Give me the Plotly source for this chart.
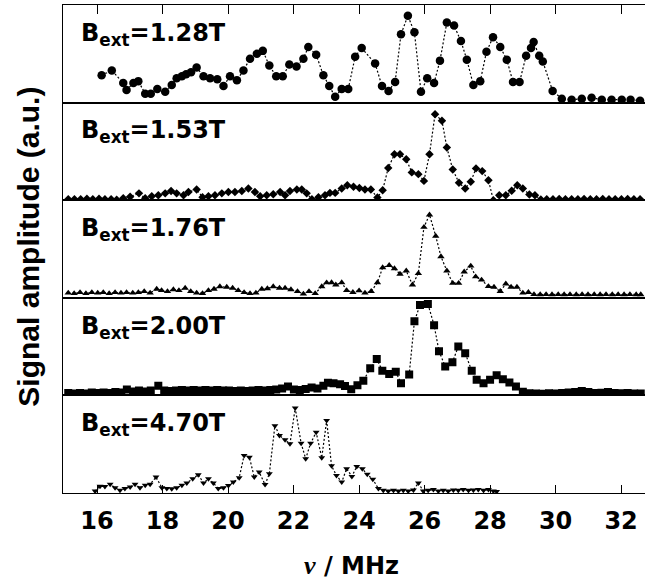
import plotly.graph_objects as go

# NMR spectra at five external fields: frequency (MHz) and signal amplitude (a.u.)
freq_128 = [16.14, 16.45, 16.80, 16.90, 17.11, 17.26, 17.47, 17.64, 17.84, 18.08,
            18.28, 18.43, 18.59, 18.72, 18.87, 19.04, 19.25, 19.45, 19.67, 19.86,
            20.06, 20.27, 20.47, 20.67, 20.88, 21.06, 21.26, 21.47, 21.67, 21.87,
            22.09, 22.30, 22.45, 22.69, 22.91, 23.09, 23.27, 23.47, 23.67, 23.88,
            24.08, 24.49, 24.70, 24.90, 25.10, 25.28, 25.49, 25.69, 25.89, 26.08,
            26.29, 26.47, 26.68, 26.90, 27.11, 27.29, 27.49, 27.70, 27.89, 28.09,
            28.31, 28.51, 28.70, 28.90, 29.10, 29.25, 29.33, 29.50, 29.61, 29.91,
            30.19, 30.49, 30.80, 31.10, 31.41, 31.71, 32.02, 32.29, 32.58]
amp_128 = [28, 33, 20, 13, 20, 22, 9, 9, 14, 11,
           18, 25, 27, 29, 31, 36, 27, 25, 24, 17,
           27, 23, 33, 45, 50, 53, 38, 27, 27, 39,
           37, 45, 57, 49, 28, 17, 6, 14, 14, 47,
           56, 40, 17, 12, 21, 70, 89, 72, 11, 25,
           20, 43, 82, 79, 63, 44, 18, 22, 52, 67,
           57, 44, 21, 21, 48, 56, 62, 48, 42, 12,
           4, 3, 4, 5, 3, 3, 3, 3, 2]

freq_153 = [15.12, 15.31, 15.50, 15.69, 15.87, 16.06, 16.24, 16.43, 16.60, 16.80,
            17.01, 17.28, 17.47, 17.67, 17.87, 18.08, 18.26, 18.43, 18.64, 18.79,
            19.04, 19.22, 19.40, 19.60, 19.81, 20.01, 20.21, 20.42, 20.62, 20.82,
            20.98, 21.18, 21.38, 21.59, 21.74, 21.89, 22.10, 22.25, 22.40, 22.56,
            22.76, 22.96, 23.11,
            23.27, 23.47, 23.64, 23.83, 24.01, 24.18, 24.36, 24.56, 24.72, 24.89,
            25.08, 25.25, 25.44, 25.61, 25.81, 25.98, 26.15, 26.32, 26.53, 26.68,
            26.86, 27.05, 27.24, 27.41, 27.57, 27.76, 27.95, 28.10, 28.28, 28.48,
            28.66, 28.83, 29.00, 29.20, 29.37, 29.55, 29.73, 29.92, 30.11, 30.30,
            30.49, 30.68, 30.87, 31.06, 31.25, 31.44, 31.63, 31.82, 32.01, 32.20,
            32.39, 32.58]
amp_153 = [1, 1, 1, 1.5, 1, 1.5, 1, 1, 0.5, 2,
           3.5, 7, 2, 4, 5, 7, 9.5, 7, 5, 8.5,
           11, 3, 4, 5, 7, 8.5, 8.5, 9.5, 12, 8.5,
           4, 5, 6, 8.5, 5, 9.5, 11, 11, 7, 1,
           3, 5, 7.5,
           7.5, 12, 15.4, 13.7, 12.6, 11, 11, 2.8, 10.3, 33,
           47, 47, 42, 28.5, 26.7, 19.8, 47, 88, 81.5, 54,
           31.5, 17.8, 12, 18.8, 32.6, 29.8, 20.5, 0, 5, 5,
           9.6, 15.4, 12, 5.8, 5, 0.7, 1, 1, 1.2, 1,
           1, 1, 1.3, 1, 1, 1.2, 1, 1, 1, 1.2,
           1, 1]

freq_176 = [15.12, 15.30, 15.48, 15.66, 15.84, 16.02, 16.19, 16.37, 16.55, 16.73,
            16.90, 17.09, 17.26, 17.44, 17.62, 17.82, 17.97, 18.15, 18.33, 18.50,
            18.69, 18.86, 19.04, 19.22, 19.40, 19.57, 19.75, 19.96, 20.14, 20.31,
            20.49, 20.67, 20.85, 21.03, 21.20, 21.38, 21.57, 21.74, 21.92, 22.12,
            22.30, 22.47, 22.66, 22.86, 23.01,
            23.16, 23.29, 23.47, 23.62, 23.81, 24.00, 24.18, 24.37, 24.56, 24.72,
            24.92, 25.08, 25.25, 25.44, 25.63, 25.81, 25.98, 26.15, 26.34, 26.50,
            26.68, 26.86, 27.04, 27.21, 27.41, 27.56, 27.74, 27.95, 28.12, 28.31,
            28.48, 28.64, 28.82, 29.00, 29.17, 29.34, 29.53, 29.71, 29.89, 30.08,
            30.26, 30.44, 30.63, 30.81, 30.99, 31.18, 31.36, 31.54, 31.73, 31.91,
            32.09, 32.27, 32.46, 32.60]
amp_176 = [5, 4.5, 5.5, 4.5, 5.5, 5, 5.5, 4.5, 5.5, 5,
           5.5, 5, 5.5, 6.5, 5, 9, 7.5, 6.5, 8.5, 7.5,
           10, 6.5, 5, 4.5, 7.5, 9, 11.5, 11, 10, 7.5,
           5.5, 4.5, 5, 9, 9.5, 11.5, 10, 10, 8.5, 6.5,
           4, 6.5, 4.5, 11.5, 15.5,
           15.6, 13.3, 15.6, 7.6, 5.6, 7.3, 5, 6.6, 15.6, 31,
           33.3, 30, 24.3, 27.6, 13.3, 25, 72.3, 85, 63.3, 42.3,
           27.6, 15, 15, 26.6, 32.6, 21.6, 18.3, 11.6, 11, 6.6,
           14.3, 11, 11, 5, 5.6, 3.5, 3.3, 3.5, 3.3, 3.5,
           3.3, 3.5, 3.3, 3.5, 3.3, 3.5, 3.3, 3.5, 3.3, 3.5,
           3.3, 3.5, 3.3, 3.3]

freq_200 = [15.12, 15.30, 15.48, 15.66, 15.84, 16.02, 16.20, 16.38, 16.56, 16.74,
            16.91, 17.10, 17.28, 17.46, 17.64, 17.87, 18.05, 18.23, 18.41, 18.59,
            18.77, 18.95, 19.13, 19.31, 19.49, 19.67, 19.85, 20.03, 20.21, 20.39,
            20.57, 20.75, 20.93, 21.11, 21.29, 21.47, 21.65, 21.83, 22.01, 22.19,
            22.37, 22.55, 22.73, 22.91, 23.05,
            23.22, 23.42, 23.57, 23.76, 23.95, 24.13, 24.34, 24.54, 24.71, 24.92,
            25.12, 25.28, 25.53, 25.69, 25.86, 26.10, 26.29, 26.44, 26.63, 26.85,
            27.03, 27.24, 27.44, 27.59, 27.80, 28.00, 28.20, 28.39, 28.59, 28.79,
            29.00, 29.20, 29.40, 29.60, 29.80, 30.00, 30.20, 30.40, 30.60, 30.80,
            31.00, 31.20, 31.40, 31.60, 31.80, 32.00, 32.20, 32.40, 32.60]
amp_200 = [2.5, 2, 2.5, 2, 3, 2.5, 3, 2.5, 3.5, 3,
           6, 4, 5, 4, 5, 10, 5, 4.5, 5, 5.5,
           5, 5.5, 5, 5.5, 5, 5.5, 5, 5, 4.5, 5,
           4.5, 5, 5.5, 5, 5.5, 6, 7, 9, 6, 5.5,
           6.5, 8, 7, 10, 13,
           12.4, 11.4, 9.7, 6.2, 10.4, 14.9, 27.7, 37.3, 25.3, 21.8,
           24.2, 12.4, 21.5, 76, 92.6, 93.7, 72, 45.3, 29.7, 33.9,
           50.2, 43.2, 25.3, 16, 12.4, 16, 20.7, 16.6, 13.2, 9,
           3.8, 2.1, 2, 1.8, 2.2, 2, 2.5, 3, 3.5, 4.6,
           3.5, 2.5, 2.8, 3.5, 2.5, 2.2, 2.5, 2, 2]

freq_470 = [15.94, 16.09, 16.24, 16.40, 16.55, 16.70, 16.85, 17.01, 17.16, 17.31,
            17.47, 17.62, 17.80, 17.98, 18.13, 18.28, 18.43, 18.59, 18.74, 18.92,
            19.09, 19.25, 19.40, 19.55, 19.70, 19.86, 20.01, 20.16, 20.34, 20.49,
            20.65, 20.80, 20.95, 21.13, 21.26, 21.43, 21.57, 21.74, 21.89, 22.05,
            22.23, 22.37, 22.52, 22.69, 22.86, 23.01, 23.16, 23.31, 23.47, 23.62,
            23.78, 23.93, 24.10, 24.25, 24.42, 24.59, 24.74, 24.89, 25.05, 25.20,
            25.35, 25.50, 25.66, 25.81, 25.96, 26.11, 26.27, 26.42, 26.57, 26.72,
            26.88, 27.03, 27.18, 27.34, 27.49, 27.64, 27.80, 27.95, 28.10, 28.20]
amp_470 = [2, 6.8, 6.7, 8.9, 5.5, 2.8, 4.5, 6.1, 8.9, 5.4,
           7.9, 8.9, 16.3, 5.4, 4.5, 4.4, 5.4, 7.9, 10.2, 14.7,
           18.8, 10.2, 14.7, 10.2, 4.5, 5.4, 7.7, 11.2, 15.7, 38.5,
           36.7, 16.3, 21.4, 8.6, 19.8, 69, 58.9, 54.5, 50.4, 87.1,
           51, 35.1, 51, 62.2, 36.1, 74.2, 27.8, 18, 11.2, 24.9,
           17, 27.2, 24.9, 19.1, 14, 4.5, 2.7, 2, 2.7, 2,
           2.7, 2, 3, 10.2, 2, 2.7, 3.5, 2, 2.7, 2,
           3, 2.7, 3.5, 2.7, 3, 3.5, 2.7, 3.5, 2, 1.5]

field_labels = ["1.28", "1.53", "1.76", "2.00", "4.70"]
freq_ticks = [16, 18, 20, 22, 24, 26, 28, 30, 32]

WIDE = "DejaVu Sans, Verdana, sans-serif"
NARROW = "Liberation Sans, Arial, sans-serif"
X_RANGE = [14.96, 32.73]
N = 5

spectra = [
    (freq_128, amp_128, "circle", 8.5),
    (freq_153, amp_153, "diamond", 6.5),
    (freq_176, amp_176, "triangle-up", 6.5),
    (freq_200, amp_200, "square", 8),
    (freq_470, amp_470, "triangle-down", 6),
]

fig = go.Figure()
layout = {}
for i, (fx, fy, sym, size) in enumerate(spectra):
    k = "" if i == 0 else str(i + 1)
    fig.add_trace(go.Scatter(
        x=fx, y=fy, mode="lines+markers",
        xaxis="x" + k, yaxis="y" + k,
        line=dict(color="black", width=1.2, dash="2px,2px"),
        marker=dict(symbol=sym, size=size, color="black", line=dict(width=0)),
        showlegend=False,
    ))
    top = 1 - i / N
    bottom = 1 - (i + 1) / N
    xa = dict(
        range=X_RANGE, anchor="y" + k, showgrid=False, zeroline=False,
        showline=True, linecolor="black", linewidth=1.2, mirror=True,
        tickvals=freq_ticks, showticklabels=False, ticks="",
    )
    if i == 0:
        xa.update(side="top", ticks="inside", ticklen=9, tickwidth=1.2,
                  tickcolor="black")
    if i == N - 1:
        xa.update(ticks="inside", ticklen=8, tickwidth=1.2, tickcolor="black",
                  showticklabels=True, ticklabelstandoff=6,
                  tickfont=dict(family=WIDE, size=24, color="black", weight="bold"))
    layout["xaxis" + k] = xa
    layout["yaxis" + k] = dict(
        domain=[bottom, top], range=[0, 100], anchor="x" + k,
        showgrid=False, zeroline=False, showline=True, linecolor="black",
        linewidth=1.2, showticklabels=False, ticks="",
    )
    fig.add_annotation(
        xref="x" + k, yref="y" + k, x=15.45, y=70,
        xanchor="left", yanchor="middle", showarrow=False,
        text="B<sub>ext</sub>=" + field_labels[i] + "T",
        font=dict(family=WIDE, size=24, color="black", weight="bold"),
    )

fig.update_layout(**layout)

fig.add_annotation(
    xref="paper", yref="paper", x=-0.06, y=0.505, xanchor="center",
    yanchor="middle", textangle=-90, showarrow=False,
    text="Signal amplitude (a.u.)",
    font=dict(family=NARROW, size=30, color="black", weight="bold"),
)
fig.add_annotation(
    xref="paper", yref="paper", x=0.495, y=-0.148, xanchor="center",
    yanchor="middle", showarrow=False,
    text="<span style='font-family:Liberation Serif;font-style:italic;font-size:26px'>ν</span> / MHz",
    font=dict(family=WIDE, size=24, color="black", weight="bold"),
)

fig.update_layout(
    width=645, height=579,
    margin=dict(l=63, r=0, t=5, b=86),
    paper_bgcolor="white", plot_bgcolor="white",
)

fig.write_html("out.html")
